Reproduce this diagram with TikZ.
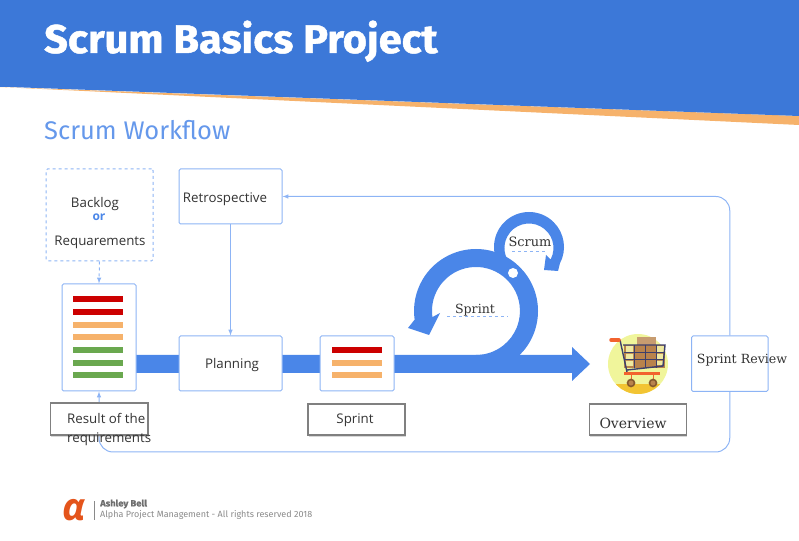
\documentclass[tikz,border=0pt]{standalone}
\usepackage{fontspec}
\usetikzlibrary{shadows}
\newfontfamily\titlefont{Fira Sans}[BoldFeatures={FakeBold=1.2,FakeStretch=1.04}]
\newfontfamily\bodyfont{Open Sans}
\newfontfamily\labelfont{DejaVu Serif}
\definecolor{headblue}{HTML}{3C78D8}
\definecolor{flowblue}{HTML}{4A86E8}
\definecolor{edgeblue}{HTML}{8DB4F5}
\definecolor{barred}{HTML}{CC0000}
\definecolor{barorange}{HTML}{F6B26B}
\definecolor{bargreen}{HTML}{6AA84F}
\definecolor{inkgray}{HTML}{333333}
\definecolor{footgray}{HTML}{8A8A8A}
\definecolor{alphaorange}{HTML}{E4541B}
\definecolor{cartnavy}{HTML}{3D3F6B}
\definecolor{cartred}{HTML}{F2622E}
\definecolor{cartbox}{HTML}{B9834C}
\definecolor{cartcell}{HTML}{EFE9A0}
\definecolor{cartdisc}{HTML}{F0F59B}
\definecolor{cartfloor}{HTML}{F2C433}
\tikzset{
  flowbox/.style={draw=edgeblue,fill=white,line width=1pt,rounded corners=1.5pt,inner sep=0pt},
  flowline/.style={draw=edgeblue,line width=1pt,>=latex},
  tagbox/.style={draw=gray,fill=white,line width=1.2pt,inner sep=0pt,drop shadow={shadow xshift=.8pt,shadow yshift=-1.6pt,fill=gray!60,opacity=.5}},
  bodytext/.style={font=\bodyfont\fontsize{13.3}{15}\selectfont,text=inkgray,inner sep=0pt},
  seriftext/.style={font=\labelfont\fontsize{#1}{15}\selectfont,text=inkgray,inner sep=0pt},
  bar/.style={minimum width=50pt,minimum height=6pt,inner sep=0pt,fill=#1},
}
\begin{document}
\begin{tikzpicture}[x=1pt,y=1pt]
  \useasboundingbox (0,0) rectangle (799,540);
  % header
  \fill[barorange] (0,453) -- (799,424) -- (799,415) -- cycle;
  \fill[headblue] (0,540) -- (799,540) -- (799,424) -- (10,453) -- (0,453) -- cycle;
  \node[font=\titlefont\bfseries\fontsize{40}{44}\selectfont,text=white,inner sep=0pt,anchor=base west] (title) at (44,487) {Scrum Basics Project};
  \node[font=\titlefont\fontsize{25.5}{28}\selectfont,text=flowblue!85!white,inner sep=0pt,anchor=base west] (subtitle) at (44,400) {Scrum Workflow};

  % main arrow
  \fill[flowblue] (136,185) -- (572,185) -- (572,193) -- (590,176) -- (572,159) -- (572,167) -- (136,167) -- cycle;
  % small loop
  \fill[flowblue] (529,293) ++(225:35) arc[start angle=225,end angle=-28,radius=35pt]
    -- (558,269) -- (544,270) -- (546,285) -- (550.6,280.5)
    arc[start angle=-28,end angle=225,radius=24.5pt] -- cycle;
  % big loop
  \fill[flowblue] (476,167) arc[start angle=-90,end angle=188,radius=62pt]
    -- (408,212) -- (429,205) -- (440,227) -- (432.4,222.9)
    arc[start angle=188,end angle=-90,radius=44pt] -- cycle;
  \node[circle,fill=white,minimum size=10pt,inner sep=0pt] (dot) at (513,267) {};

  % boxes
  \node[flowbox,dashed,minimum width=107pt,minimum height=92pt] (backlog) at (99.5,325) {};
  \node[flowbox,minimum width=103pt,minimum height=55pt] (retro) at (230.5,343.5) {};
  \node[flowbox,minimum width=74pt,minimum height=107pt] (list) at (99,202.5) {};
  \node[flowbox,minimum width=103pt,minimum height=55pt] (planning) at (230.5,176.5) {};
  \node[flowbox,minimum width=74pt,minimum height=55pt] (sprintbox) at (357,176.5) {};
  \node[flowbox,fill=white,minimum width=76.5pt,minimum height=55.5pt] (review) at (729.75,176.25) {};

  % connectors
  \coordinate (low) at (400,88);
  \draw[flowline,->,rounded corners=14pt] (review.north) |- (retro.east);
  \draw[flowline,->,rounded corners=14pt] (review.south) |- (low) -| (list.south);
  \draw[flowline,->] (retro.south) -- (planning.north);
  \draw[flowline,->,dashed] (backlog.south) -- (list.north);

  % bars
  \foreach \y/\c in {240.5/barred,228/barred,215/barorange,202.5/barorange,189.5/bargreen,177/bargreen,164.5/bargreen}
    \node[bar=\c] at (98,\y) {};
  \foreach \y/\c in {190/barred,177/barorange,164.5/barorange}
    \node[bar=\c] at (356.5,\y) {};

  % tags
  \node[tagbox,minimum width=97.5pt,minimum height=32pt] (resulttag) at (99.25,121) {};
  \node[tagbox,minimum width=97pt,minimum height=31pt] (sprinttag) at (356.5,120.5) {};
  \node[tagbox,minimum width=97pt,minimum height=31pt] (overviewtag) at (638,120.5) {};

  % cart
  \fill[cartdisc] (638,176) circle (30pt);
  \begin{scope}
    \clip (638,176) circle (30pt);
    \fill[cartfloor] (600,146) rectangle (676,156);
  \end{scope}
  \fill[cartbox!80!white] (637,195) rectangle (656,203);
  \fill[cartbox] (624,172) rectangle (665,195);
  \fill[cartcell] (626,188) rectangle (633,194) (657,188) rectangle (664,194) (657,181) rectangle (663,186) (626,181) rectangle (633,186) (626,174) rectangle (633,179) (657,175) rectangle (663,179);
  \draw[line width=1.4pt,draw=cartnavy] (623,195) -- (665,195) -- (663,174) -- (627,170);
  \foreach \x in {634,645,656} \draw[line width=1pt,draw=cartnavy] (\x,195) -- (\x,172);
  \foreach \y in {187,180} \draw[line width=1pt,draw=cartnavy] (624,\y) -- (664,\y);
  \draw[line width=1.4pt,draw=cartnavy] (620,200) -- (627,168);
  \draw[line width=3.5pt,draw=cartred,line cap=round] (611,200) -- (619,200);
  \draw[line width=3pt,draw=cartred] (624,166) -- (660,166);
  \foreach \x in {631,653} {
    \draw[line width=1pt,cartred] (\x,165) -- (\x,158);
    \draw[line width=1.6pt,draw=brown!70!black,fill=cartbox] (\x,157) circle (3.5pt);
  }

  % text
  \node[bodytext] (backlogtext) at (95,336) {Backlog};
  \node[font=\bodyfont\bfseries\fontsize{12}{14}\selectfont,text=flowblue,inner sep=0pt] (ortext) at (99,323) {or};
  \node[bodytext] (reqtext) at (100,298) {Requarements};
  \node[bodytext] (retrotext) at (225,341) {Retrospective};
  \node[bodytext] (plantext) at (232,175) {Planning};
  \node[bodytext,align=left,anchor=north west,font=\bodyfont\fontsize{13.3}{19}\selectfont] (resulttext) at (67,126.5) {Result of the\\requirements};
  \node[bodytext] (sprinttext) at (355,120) {Sprint};
  \node[seriftext=14] (overviewtext) at (633,117) {Overview};
  \node[seriftext=12.6] (reviewtext) at (742,180) {Sprint Review};
  \node[seriftext=12.9] (scrumtext) at (530,298) {Scrum};
  \node[seriftext=12.6] (looptext) at (475,230) {Sprint};
  \draw[flowline,line width=.5pt,dashed] (512,289) -- (547,289);
  \draw[flowline,line width=.5pt,dashed] (447,224) -- (508,224);

  % footer
  \node[font=\bodyfont\bfseries\itshape\fontsize{38}{40}\selectfont,text=alphaorange,inner sep=0pt] (logo) at (74.5,30) {α};
  \draw[footgray,line width=.5pt] (94.5,39) -- (94.5,20);
  \node[font=\titlefont\bfseries\fontsize{9}{11}\selectfont,text=footgray!80!black,inner sep=0pt,anchor=west] (author) at (100,36) {Ashley Bell};
  \node[font=\titlefont\fontsize{9}{11}\selectfont,text=footgray,inner sep=0pt,anchor=west] (rights) at (100,25) {Alpha Project Management - All rights reserved 2018};
\end{tikzpicture}
\end{document}
